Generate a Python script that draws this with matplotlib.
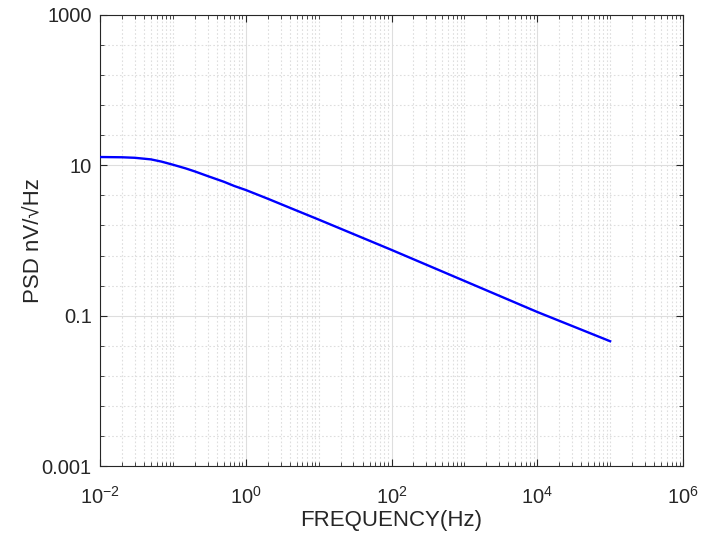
import numpy as np
import matplotlib
matplotlib.use("Agg")
import matplotlib.pyplot as plt
from matplotlib.ticker import FixedLocator, NullFormatter

plt.rcParams['font.family'] = ['Liberation Sans', 'DejaVu Sans']
plt.rcParams['mathtext.fontset'] = 'custom'
plt.rcParams['mathtext.rm'] = 'Liberation Sans'
plt.rcParams['mathtext.default'] = 'regular'

# Data
freq = [0.01, 0.02, 0.03, 0.05, 0.07, 0.1, 0.15, 0.2, 0.3, 0.5, 0.7,
        1, 2, 5, 10, 100, 1000, 1e4, 1e5]
psd = [12.9, 12.8, 12.6, 12.0, 11.2, 10.2, 9.1, 8.3, 7.2, 6.05, 5.3,
       4.7, 3.6, 2.5, 1.9, 0.75, 0.29, 0.112, 0.0457]

xticks = [1e-2, 1e0, 1e2, 1e4, 1e6]
xticklabels = [r'$10^{-2}$', r'$10^{0}$', r'$10^{2}$', r'$10^{4}$', r'$10^{6}$']
yticks = [1e-3, 1e-1, 1e1, 1e3]
yticklabels = ['0.001', '0.1', '10', '1000']

W, H = 702, 542
fig = plt.figure(figsize=(W / 100, H / 100), dpi=100)
ax = fig.add_axes([100 / W, 1 - 466 / H, (683 - 100) / W, (466 - 15) / H])

ax.plot(freq, psd, color='#0000FF', lw=1.7, zorder=3)
ax.set_xscale('log')
ax.set_yscale('log')
ax.set_xlim(1e-2, 1e6)
ax.set_ylim(1e-3, 1e3)

ax.xaxis.set_major_locator(FixedLocator(xticks))
ax.set_xticklabels(xticklabels)
ax.yaxis.set_major_locator(FixedLocator(yticks))
ax.set_yticklabels(yticklabels)

xminor = [n * 10.0 ** k for k in range(-2, 6) for n in range(1, 10)
          if not (n == 1 and k % 2 == 0)]
ax.xaxis.set_minor_locator(FixedLocator(xminor))
ax.xaxis.set_minor_formatter(NullFormatter())
yminor = [10.0 ** (k + 0.4 * j) for k in (-3, -1, 1) for j in range(1, 5)]
ax.yaxis.set_minor_locator(FixedLocator(yminor))
ax.yaxis.set_minor_formatter(NullFormatter())

ax.grid(which='major', color='#dedede', lw=0.8, ls='-')
ax.grid(which='minor', color='#dedede', lw=0.8, ls=(0, (1.5, 2)))
ax.set_axisbelow(True)

ax.tick_params(which='both', direction='in', top=True, right=True,
               colors='#262626', labelsize=14.5)
ax.tick_params(which='major', length=5, width=0.8)
ax.tick_params(which='minor', length=3, width=0.6)
ax.tick_params(axis='x', pad=14)
ax.tick_params(axis='y', pad=6)
for s in ax.spines.values():
    s.set_color('#262626')
    s.set_linewidth(0.8)

ax.set_xlabel('FREQUENCY(Hz)', fontsize=16, color='#262626', labelpad=2)
ax.set_ylabel('PSD nV/\u221aHz', fontsize=16, color='#262626', labelpad=-2)

fig.savefig('out.png', dpi=100)
